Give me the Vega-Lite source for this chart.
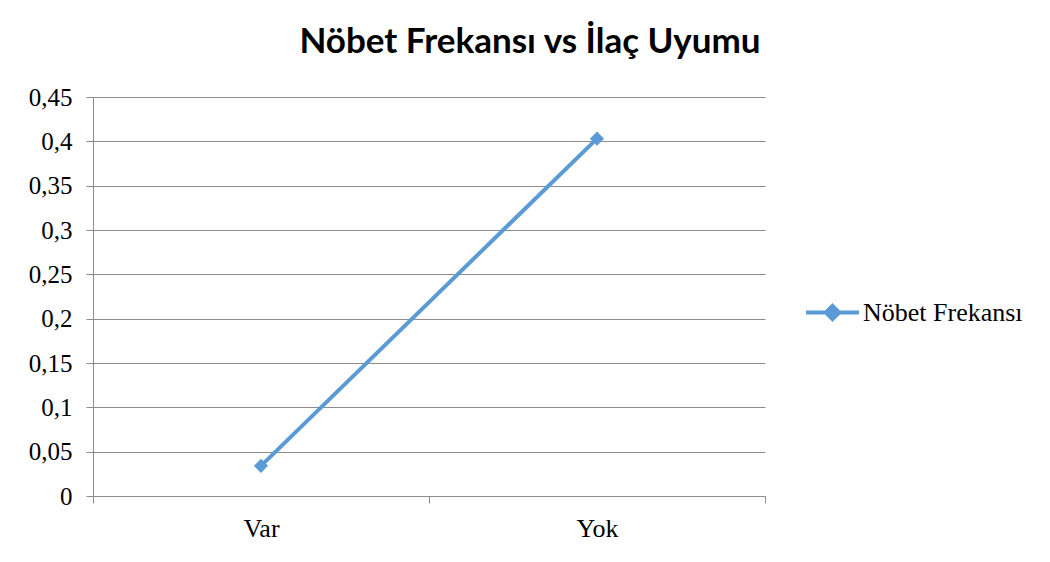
{
  "$schema": "https://vega.github.io/schema/vega-lite/v6.json",
  "width": 672,
  "height": 399,
  "autosize": {"type": "none"},
  "padding": {"left": 93, "top": 97, "right": 285, "bottom": 66},
  "background": "white",
  "title": {
    "text": "Nöbet Frekansı vs İlaç Uyumu",
    "font": "Lato",
    "fontSize": 35,
    "fontWeight": "bold",
    "color": "#000000",
    "anchor": "middle",
    "frame": "group",
    "baseline": "alphabetic",
    "offset": 42,
    "dy": 45,
    "dx": 101
  },
  "data": {
    "values": [
      {"Uyum": "Var", "Frekans": 0.034, "Seri": "Nöbet Frekansı"},
      {"Uyum": "Yok", "Frekans": 0.403, "Seri": "Nöbet Frekansı"}
    ]
  },
  "encoding": {
    "x": {
      "field": "Uyum",
      "type": "nominal",
      "sort": ["Var", "Yok"],
      "scale": {"type": "band", "paddingInner": 0, "paddingOuter": 0},
      "axis": {
        "title": null,
        "labelAngle": 0,
        "tickBand": "extent",
        "tickSize": 7,
        "tickColor": "#8c8c8c",
        "domainColor": "#8c8c8c",
        "domainWidth": 1,
        "grid": false,
        "labelFont": "Liberation Serif",
        "labelFontSize": 26,
        "labelColor": "#000000",
        "labelPadding": 12
      }
    },
    "y": {
      "field": "Frekans",
      "type": "quantitative",
      "scale": {"domain": [0, 0.45], "nice": false},
      "axis": {
        "title": null,
        "values": [0, 0.05, 0.1, 0.15, 0.2, 0.25, 0.3, 0.35, 0.4, 0.45],
        "labelExpr": "replace(format(datum.value, '~g'), '.', ',')",
        "tickSize": 7,
        "tickColor": "#8c8c8c",
        "domainColor": "#8c8c8c",
        "gridColor": "#8c8c8c",
        "grid": true,
        "labelFont": "Liberation Serif",
        "labelFontSize": 25,
        "labelColor": "#000000",
        "labelPadding": 14
      }
    },
    "color": {
      "field": "Seri",
      "type": "nominal",
      "scale": {"range": ["#5B9BD5"]},
      "legend": {
        "title": null,
        "orient": "none",
        "legendX": 711,
        "legendY": 187,
        "padding": 0,
        "symbolType": "M-1,0L1,0M0,-0.25L0.25,0L0,0.25L-0.25,0Z",
        "symbolSize": 2809,
        "symbolStrokeWidth": 4,
        "symbolStrokeColor": "#5B9BD5",
        "symbolFillColor": "#5B9BD5",
        "symbolOpacity": 1,
        "labelFont": "Liberation Serif",
        "labelFontSize": 26,
        "labelColor": "#000000",
        "labelOffset": 2
      }
    }
  },
  "layer": [
    {"mark": {"type": "line", "strokeWidth": 4}},
    {"mark": {"type": "point", "shape": "diamond", "filled": true, "size": 200, "opacity": 1}}
  ],
  "config": {
    "view": {"stroke": null},
    "axis": {"gridWidth": 1, "tickWidth": 1}
  }
}
